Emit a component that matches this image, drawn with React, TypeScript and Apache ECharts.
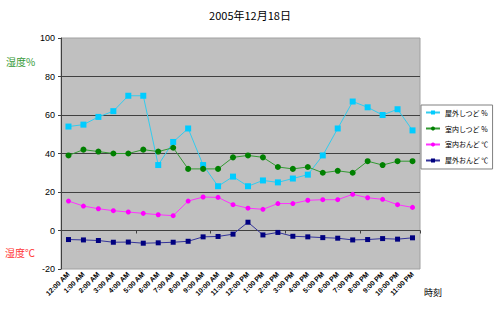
import React, { useEffect, useRef } from "react";
import * as echarts from "echarts";

const categories = [
  "12:00 AM", "1:00 AM", "2:00 AM", "3:00 AM", "4:00 AM", "5:00 AM", "6:00 AM", "7:00 AM",
  "8:00 AM", "9:00 AM", "10:00 AM", "11:00 AM", "12:00 PM", "1:00 PM", "2:00 PM", "3:00 PM",
  "4:00 PM", "5:00 PM", "6:00 PM", "7:00 PM", "8:00 PM", "9:00 PM", "10:00 PM", "11:00 PM",
];
const outdoorHumidity = [54, 55, 59, 62, 70, 70, 34, 46, 53, 34, 23, 28, 23, 26, 25, 27, 29, 39, 53, 67, 64, 60, 63, 52];
const indoorHumidity = [39, 42, 41, 40, 40, 42, 41, 43, 32, 32, 32, 38, 39, 38, 33, 32, 33, 30, 31, 30, 36, 34, 36, 36];
const indoorTemp = [15.3, 12.7, 11.3, 10.3, 9.6, 8.9, 8.2, 7.7, 15.3, 17.4, 17.2, 13.4, 11.6, 11, 14, 14, 15.7, 16, 16, 18.8, 17, 16.2, 13.4, 12];
const outdoorTemp = [-4.7, -4.9, -5.2, -6.1, -6, -6.6, -6.4, -6.1, -5.6, -3.3, -3.1, -1.9, 4.3, -2.3, -1, -3, -3.3, -3.7, -4, -4.9, -4.7, -4.2, -4.5, -3.8];
const seriesNames = ["屋外しつど %", "室内しつど %", "室内おんど ℃", "屋外おんど ℃"];

const FONT = "'Liberation Sans', Arial, sans-serif";
const CJK = "'Noto Sans CJK JP', sans-serif";

export default function App() {
  const ref = useRef<HTMLDivElement>(null);
  useEffect(() => {
    if (!ref.current) return;
    const chart = echarts.init(ref.current, null, { renderer: "svg" });
    const mk = (name: string, data: number[], color: string, lineColor: string, symbol: string, size: number) => ({
      name,
      type: "line",
      data,
      symbol,
      symbolSize: size,
      itemStyle: { color },
      lineStyle: { color: lineColor, width: 1 },
      emphasis: { disabled: true },
    });
    chart.setOption({
      animation: false,
      backgroundColor: "#ffffff",
      title: {
        text: "2005年12月18日",
        left: "center",
        top: 4,
        textStyle: { fontFamily: CJK, fontSize: 11, fontWeight: "normal", color: "#000" },
      },
      grid: {
        left: 61,
        top: 38,
        right: 80,
        bottom: 51,
        show: true,
        backgroundColor: "#c0c0c0",
        borderColor: "#a0a0a0",
        borderWidth: 1,
      },
      legend: {
        orient: "vertical",
        left: 421,
        top: 105,
        width: 72,
        backgroundColor: "#ffffff",
        borderColor: "#808080",
        borderWidth: 1,
        padding: [4, 4, 5, 4],
        itemGap: 9,
        itemWidth: 14,
        itemHeight: 5,
        textStyle: { fontFamily: CJK, fontSize: 7, color: "#000" },
        data: seriesNames,
      },
      xAxis: [
        {
          type: "category",
          data: categories,
          position: "bottom",
          axisLine: { show: false, onZero: false },
          axisTick: { show: false },
          axisLabel: {
            rotate: 45,
            fontSize: 7,
            fontWeight: "bold",
            fontFamily: FONT,
            color: "#000",
            margin: 4,
            interval: 0,
          },
        },
        {
          type: "category",
          data: categories,
          position: "bottom",
          axisLine: { show: true, onZero: true, lineStyle: { color: "#404040", width: 1 } },
          axisTick: { show: true, inside: false, length: 3, lineStyle: { color: "#404040" } },
          axisLabel: { show: false },
        },
      ],
      yAxis: {
        type: "value",
        min: -20,
        max: 100,
        interval: 20,
        axisLine: { show: true, lineStyle: { color: "#404040" } },
        axisTick: { show: true, length: 3, lineStyle: { color: "#404040" } },
        axisLabel: { fontSize: 9, fontFamily: FONT, color: "#000", margin: 6 },
        splitLine: { show: true, showMinLine: false, showMaxLine: false, lineStyle: { color: "#404040", width: 1 } },
      },
      graphic: [
        { type: "text", left: 6, top: 56, style: { text: "湿度%", fill: "#339933", font: "10px 'Noto Sans CJK JP'" } },
        { type: "text", left: 5, top: 247, style: { text: "湿度℃", fill: "#ff3333", font: "10px 'Noto Sans CJK JP'" } },
        { type: "text", left: 424, top: 288, style: { text: "時刻", fill: "#000", font: "9px 'Noto Sans CJK JP'" } },
      ],
      series: [
        mk(seriesNames[0], outdoorHumidity, "#00ccff", "#33ccee", "rect", 6),
        mk(seriesNames[1], indoorHumidity, "#008000", "#339933", "circle", 6),
        mk(seriesNames[2], indoorTemp, "#ff00ff", "#ff33ff", "circle", 5),
        { ...mk(seriesNames[3], outdoorTemp, "#000080", "#333399", "rect", 5), xAxisIndex: 0 },
      ],
    });
    return () => chart.dispose();
  }, []);
  return <div ref={ref} style={{ width: 500, height: 320, position: "absolute", left: 0, top: 0 }} />;
}
